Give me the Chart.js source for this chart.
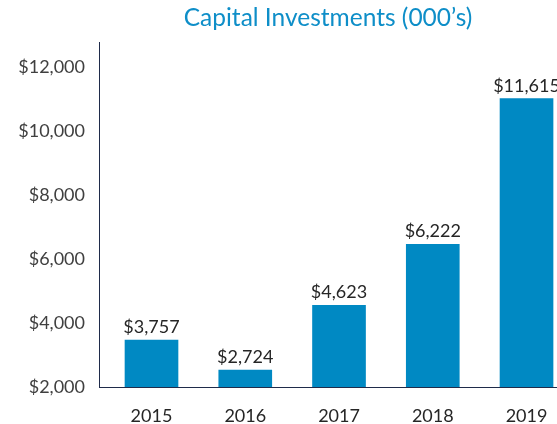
<!DOCTYPE html>
<html>
<head>
<meta charset="utf-8">
<script src="https://cdn.jsdelivr.net/npm/chart.js@4.4.1/dist/chart.umd.min.js"></script>
<style>
  html, body { margin: 0; padding: 0; background: #fff; overflow: hidden; }
  #wrap { width: 557px; height: 424px; position: relative; }
</style>
</head>
<body>
<div id="wrap"><canvas id="capChart"></canvas></div>
<script>
  // data
  const years = ["2015", "2016", "2017", "2018", "2019"];
  const barValues = [3470, 2530, 4560, 6470, 11030];
  const valueLabels = ["$3,757", "$2,724", "$4,623", "$6,222", "$11,615"];
  const yTicks = [2000, 4000, 6000, 8000, 10000, 12000];

  const blue = "#0089c3";
  const axisColor = "#1f2b4a";

  const barLabels = {
    id: "barLabels",
    afterDatasetsDraw(chart) {
      const ctx = chart.ctx;
      const meta = chart.getDatasetMeta(0);
      ctx.save();
      ctx.font = "18px Lato";
      ctx.fillStyle = "#262626";
      ctx.textAlign = "center";
      ctx.textBaseline = "alphabetic";
      meta.data.forEach((bar, i) => {
        ctx.fillText(valueLabels[i], bar.x, bar.y - 7);
      });
      ctx.restore();
    },
  };

  new Chart(document.getElementById("capChart"), {
    type: "bar",
    data: {
      datasets: [{
        data: years.map((y, i) => ({ x: i, y: barValues[i] })),
        backgroundColor: blue,
        barThickness: 53,
      }],
    },
    options: {
      responsive: true,
      maintainAspectRatio: false,
      animation: false,
      layout: { padding: 0 },
      plugins: {
        legend: { display: false },
        tooltip: { enabled: false },
        title: {
          display: true,
          text: "Capital Investments (000\u2019s)",
          color: "#0e8ec8",
          font: { family: "Lato", size: 24.5, weight: "normal" },
          fullSize: false,
          padding: { top: 3, bottom: 9.6 },
        },
      },
      scales: {
        x: {
          type: "linear",
          offset: false,
          min: -0.56,
          max: 4.325,
          grid: { display: false, drawTicks: false },
          border: { display: true, color: axisColor, width: 1 },
          ticks: {
            stepSize: 1,
            includeBounds: false,
            autoSkip: false,
            maxRotation: 0,
            padding: 18,
            color: "#262626",
            font: { family: "Lato", size: 18 },
            callback: (v) => (Number.isInteger(v) && years[v] ? years[v] : ""),
          },
          afterFit: (s) => {
            s.height = 37;
            s.paddingLeft = 0;
            s.paddingRight = 0;
          },
        },
        y: {
          min: yTicks[0],
          max: 12800,
          grid: { display: false, drawTicks: false },
          border: { display: true, color: axisColor, width: 1 },
          afterBuildTicks: (s) => { s.ticks = yTicks.map((v) => ({ value: v })); },
          ticks: {
            padding: 14,
            color: "#404040",
            font: { family: "Lato", size: 18 },
            callback: (v) => "$" + v.toLocaleString("en-US"),
          },
          afterFit: (s) => {
            s.width = 99;
            s.paddingTop = 0;
            s.paddingBottom = 0;
          },
        },
      },
    },
    plugins: [barLabels],
  });
</script>
</body>
</html>
